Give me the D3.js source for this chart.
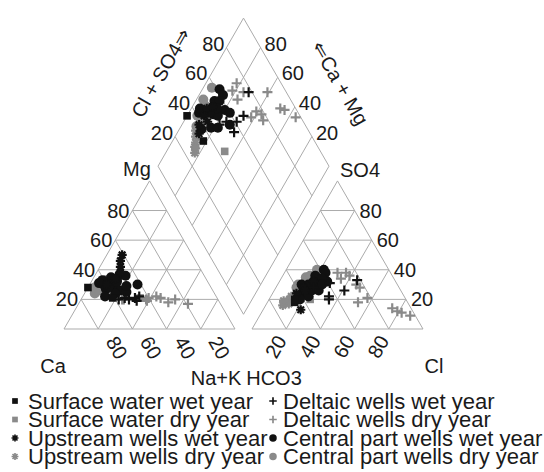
<!DOCTYPE html>
<html>
<head>
<meta charset="utf-8">
<script src="https://cdn.jsdelivr.net/npm/d3@7"></script>
<style>
body { margin: 0; background: #fff; }
text { font-family: "Liberation Sans", Arial, sans-serif; fill: #1a1a1a; }
</style>
</head>
<body>
<div id="plot"></div>
<script>
'use strict';

// each sample: [Ca, Mg, Na+K, HCO3, SO4, Cl] in % of meq/l
const surfaceWet = [[72, 28, 0, 66, 18, 16], [61, 21, 18, 65, 20, 15]];
const surfaceDry = [[45, 21, 34, 56, 20, 24]];
const upstreamWet = [
    [41, 50, 9, 52, 30, 18], [44, 46, 10, 56, 28, 16], [46, 42, 12, 48, 32, 20],
    [48, 38, 14, 56, 26, 18], [53, 34, 13, 65, 13, 22], [60, 30, 10, 62, 24, 14]
];
const upstreamDry = [
    [59, 24, 17, 74, 16, 10], [59, 26, 15, 72, 18, 10], [60, 28, 12, 68, 20, 12],
    [61, 25, 14, 70, 17, 13], [63, 27, 10, 66, 22, 12], [61, 23, 16, 72, 19, 9],
    [59, 30, 11, 65, 21, 14]
];
const deltaicWet = [
    [52, 20, 28, 22, 33, 45], [48, 21, 31, 39, 31, 30], [48, 19, 33, 44, 22, 34],
    [45, 22, 33, 33, 26, 41], [58, 20, 22, 50, 28, 22], [54, 21, 25, 45, 20, 35]
];
const deltaicDry = [
    [60, 22, 18, 31, 38, 31], [58, 24, 18, 26, 38, 36], [55, 20, 25, 25, 36, 39],
    [40, 21, 39, 24, 30, 46], [42, 20, 38, 29, 18, 53], [35, 22, 43, 22, 21, 57],
    [42, 19, 39, 11, 14, 75], [30, 18, 52, 9, 12, 79], [25, 20, 55, 7, 11, 82],
    [19, 17, 64, 3, 9, 88], [33, 21, 46, 23, 28, 49], [56, 20, 24, 31, 34, 35]
];
const centralWet = [
    [55, 35, 10, 38, 40, 22], [56, 32, 12, 45, 35, 20], [62, 30, 8, 56, 28, 16],
    [57, 28, 15, 50, 30, 20], [54, 26, 20, 42, 33, 25], [51, 25, 24, 40, 32, 28],
    [61, 33, 6, 58, 24, 18], [58, 24, 18, 56, 22, 22], [49, 37, 14, 38, 38, 24],
    [49, 29, 22, 52, 26, 22], [64, 31, 5, 56, 30, 14], [62, 27, 11, 45, 36, 19],
    [46, 36, 18, 48, 26, 26], [65, 22, 13, 62, 20, 18], [52, 34, 14, 42, 34, 24],
    [58, 30, 12, 48, 32, 20], [53, 32, 15, 46, 30, 24], [60, 28, 12, 52, 30, 18],
    [42, 30, 28, 44, 30, 26]
];
const centralDry = [
    [65, 30, 5, 42, 40, 18], [68, 28, 4, 51, 35, 14], [59, 33, 8, 58, 30, 12],
    [67, 26, 7, 52, 33, 15], [59, 31, 10, 60, 26, 14], [70, 24, 6, 60, 28, 12],
    [54, 34, 12, 48, 36, 16], [62, 29, 9, 64, 22, 14]
];

const seriesNames = [
    'Surface water wet year', 'Surface water dry year',
    'Upstream wells wet year', 'Upstream wells dry year',
    'Deltaic wells wet year', 'Deltaic wells dry year',
    'Central part wells wet year', 'Central part wells dry year'
];
const tickLevels = [20, 40, 60, 80];

const black = '#111', grey = '#8a8a8a', gridColor = '#ababab';
const series = [
    { data: surfaceWet, shape: 'square', color: black },
    { data: surfaceDry, shape: 'square', color: grey },
    { data: upstreamWet, shape: 'star', color: black },
    { data: upstreamDry, shape: 'star', color: grey },
    { data: deltaicWet, shape: 'plus', color: black },
    { data: deltaicDry, shape: 'plus', color: grey },
    { data: centralWet, shape: 'circle', color: black },
    { data: centralDry, shape: 'circle', color: grey }
].map((s, i) => Object.assign(s, { name: seriesNames[i] }));
// drawing order: grey series underneath, black on top
const drawOrder = [1, 3, 5, 7, 6, 2, 4, 0];

const width = 544, height = 472,
    side = 171,
    triH = side * Math.sqrt(3) / 2,
    baseY = 329,
    catX0 = 64,
    gap = 17,
    anX0 = catX0 + side + gap,
    dmX = catX0 + side + gap / 2,
    dmY = baseY - gap * Math.sqrt(3) / 2;

const px = d3.scaleLinear().domain([0, 100]).range([0, side]);
const py = d3.scaleLinear().domain([0, 100]).range([0, triH]);

// cation triangle: Ca left, Na+K right, Mg apex
const cat = (mg, nak) => [catX0 + px(nak + mg / 2), baseY - py(mg)];
// anion triangle: HCO3 left, Cl right, SO4 apex
const an = (so4, cl) => [anX0 + px(cl + so4 / 2), baseY - py(so4)];
// diamond: a = Ca+Mg, b = Cl+SO4
const dm = (a, b) => [dmX + px((b - a) / 2), dmY - py(a + b)];

const svg = d3.select('#plot').append('svg')
    .attr('width', width).attr('height', height);

const line = d3.line();
const grid = svg.append('g')
    .attr('fill', 'none').attr('stroke', gridColor).attr('stroke-width', 1);

function addPath(pts) {
    grid.append('path').attr('d', line(pts));
}

// outlines
addPath([cat(0, 0), cat(0, 100), cat(100, 0), cat(0, 0)]);
addPath([an(0, 0), an(0, 100), an(100, 0), an(0, 0)]);
addPath([dm(0, 0), dm(100, 0), dm(100, 100), dm(0, 100), dm(0, 0)]);

tickLevels.forEach(v => {
    // cation grid
    addPath([cat(v, 0), cat(v, 100 - v)]);
    addPath([cat(0, 100 - v), cat(100 - v, 0)]);
    addPath([cat(0, v), cat(100 - v, v)]);
    // anion grid
    addPath([an(v, 0), an(v, 100 - v)]);
    addPath([an(0, v), an(100 - v, v)]);
    addPath([an(0, 100 - v), an(100 - v, 0)]);
    // diamond grid
    addPath([dm(v, 0), dm(v, 100)]);
    addPath([dm(0, v), dm(100, v)]);
});

const labels = svg.append('g').attr('font-size', 20);

function label(x, y, txt, anchor, rot) {
    labels.append('text')
        .attr('transform', `translate(${x},${y})` + (rot ? ` rotate(${rot})` : ''))
        .attr('text-anchor', anchor || 'middle')
        .attr('dominant-baseline', 'central')
        .text(txt);
}

tickLevels.forEach(v => {
    let p;
    p = cat(v, 0);
    label(p[0] - 3, p[1], v, 'end');
    p = cat(0, 100 - v);               // Ca = v on the base
    label(p[0] + 13, p[1] + 9, v, 'start', 60);
    p = an(v, 100 - v);
    label(p[0] + 5, p[1], v, 'start');
    p = an(0, v);
    label(p[0] - 5, p[1] + 8, v, 'end', -60);
    p = dm(100, v);
    label(p[0] - 2, p[1] - 4, v, 'end');
    p = dm(v, 100);
    label(p[0] + 4, p[1] - 4, v, 'start');
});

label(137, 169, 'Mg');
label(53, 366, 'Ca');
label(216, 378, 'Na+K');
label(274, 378, 'HCO3');
label(434, 366, 'Cl');
label(360, 170, 'SO4');
label(161, 73, 'Cl + SO4\u21d2', 'middle', -60);
label(340, 83, '\u21d0Ca + Mg', 'middle', 60);

function marker(sel, shape, color, k) {
    if (shape === 'square') {
        sel.append('rect').attr('x', -3.8 * k).attr('y', -3.8 * k)
            .attr('width', 7.6 * k).attr('height', 7.6 * k).attr('fill', color);
    } else if (shape === 'circle') {
        sel.append('circle').attr('r', 5 * k).attr('fill', color);
    } else if (shape === 'plus') {
        const r = 5 * k;
        sel.append('path').attr('d', `M${-r},0H${r}M0,${-r}V${r}`)
            .attr('stroke', color).attr('stroke-width', 2.2 * k).attr('fill', 'none');
    } else {
        const r = 4.6 * k, d = r * 0.72;
        sel.append('path')
            .attr('d', `M${-r},0H${r}M0,${-r}V${r}M${-d},${-d}L${d},${d}M${-d},${d}L${d},${-d}`)
            .attr('stroke', color).attr('stroke-width', 2.2 * k).attr('fill', 'none');
    }
}

const pts = svg.append('g');
drawOrder.forEach(i => {
    const s = series[i];
    s.data.forEach(d => {
        const [ca, mg, nak, hco3, so4, cl] = d;
        const spots = [cat(mg, nak), an(so4, cl), dm(ca + mg, so4 + cl)];
        spots.forEach(p => {
            marker(pts.append('g').attr('transform', `translate(${p[0]},${p[1]})`),
                s.shape, s.color, 1);
        });
    });
});

// legend, two columns of four
const legend = svg.append('g').attr('font-size', 22);
series.forEach((s, i) => {
    const col = Math.floor(i / 4), row = i % 4;
    const x = col ? 273 : 15, y = 401 + row * 18.5;
    const g = legend.append('g').attr('transform', `translate(${x},${y})`);
    marker(g, s.shape, s.color, 0.75);
    g.append('text').attr('x', col ? 10 : 13).attr('dominant-baseline', 'central')
        .text(s.name);
});
</script>
</body>
</html>
